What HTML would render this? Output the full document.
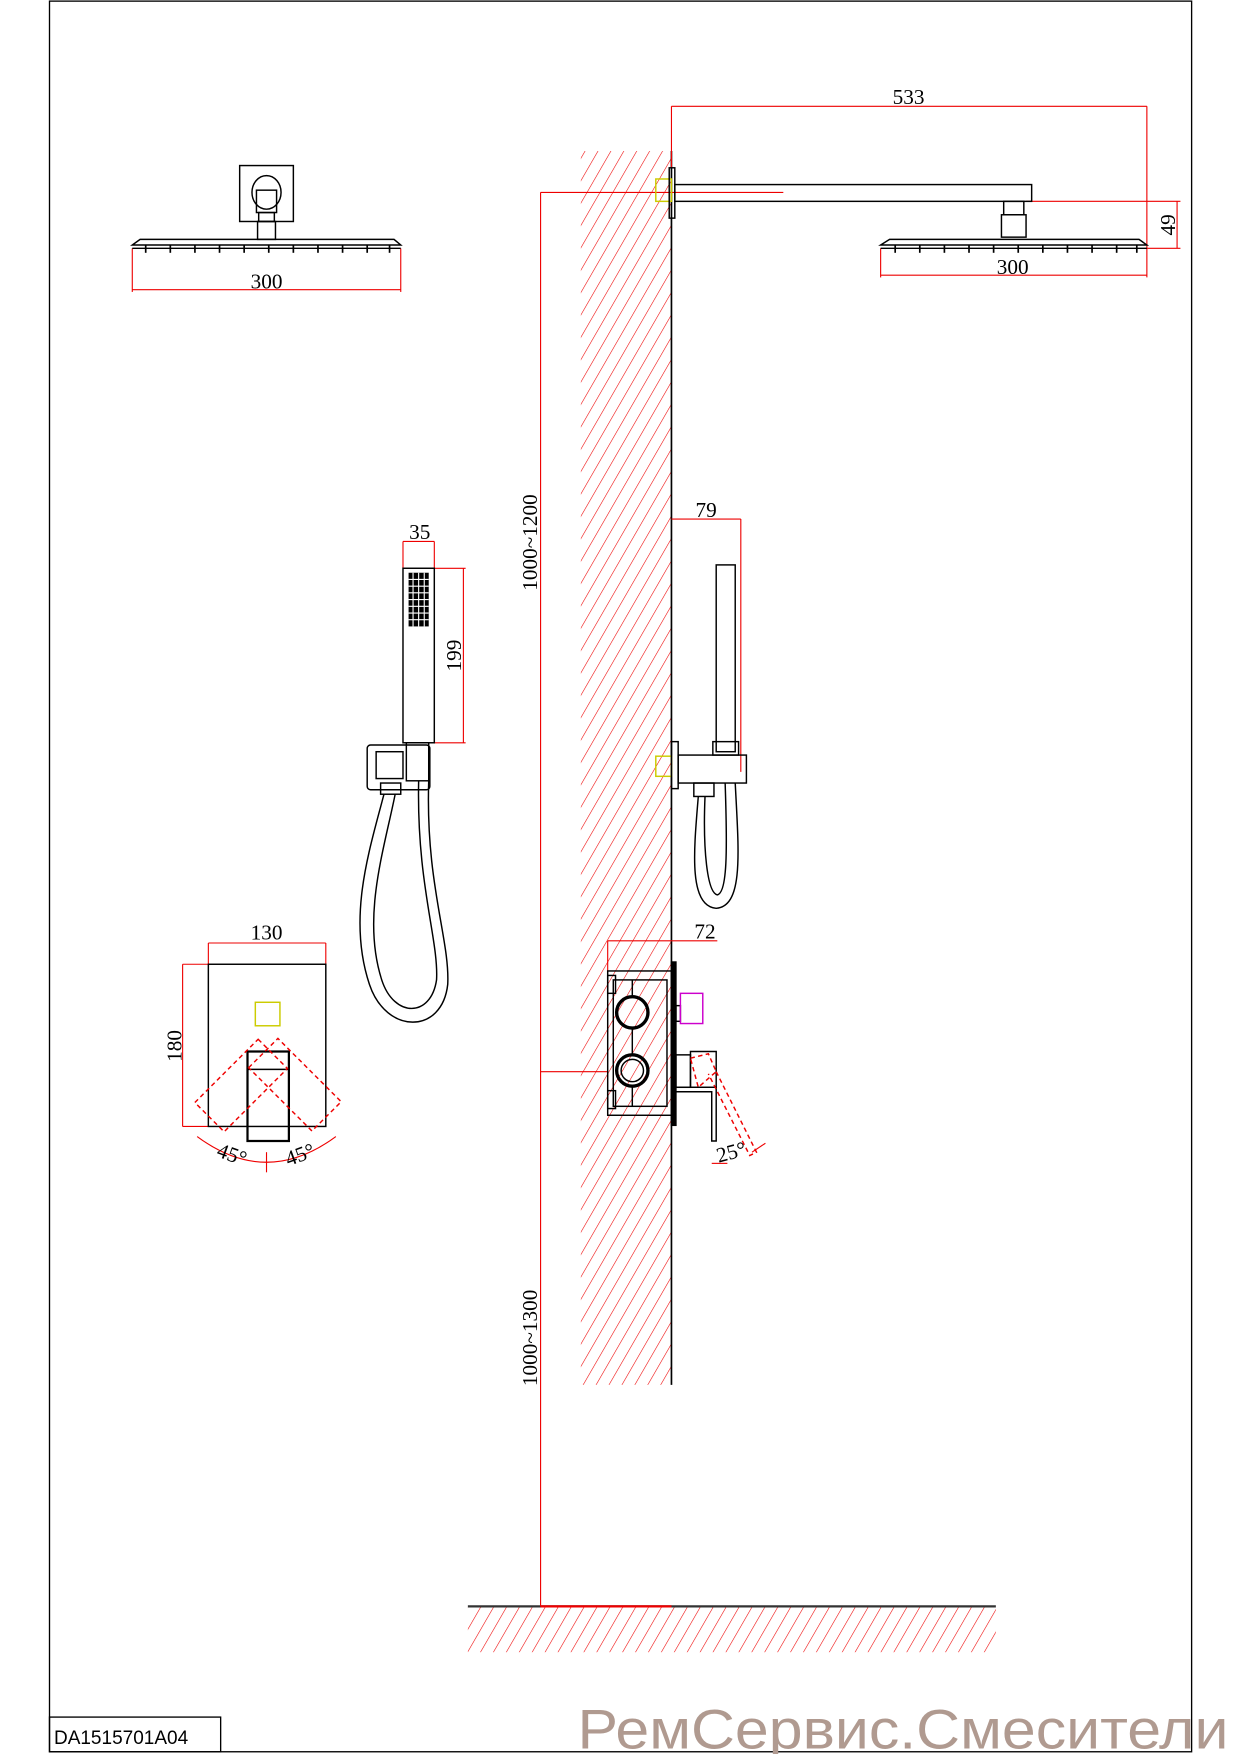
<!DOCTYPE html>
<html><head><meta charset="utf-8"><style>
html,body{margin:0;padding:0;background:#fff;}
svg{display:block;}
text{font-family:"Liberation Serif",serif;}
</style></head><body>
<svg width="1240" height="1754" viewBox="0 0 1108 1568" xmlns="http://www.w3.org/2000/svg">
<defs>
<pattern id="h" width="10" height="10" patternUnits="userSpaceOnUse" patternTransform="rotate(30)">
<line x1="0" y1="0" x2="0" y2="10" stroke="#e00" stroke-width="1"/>
</pattern>
</defs>
<rect x="0" y="0" width="1108" height="1568" fill="#fff"/>
<rect x="44" y="1" width="1021" height="1565" fill="none" stroke="#000" stroke-width="1.2"/>
<rect x="44" y="1535" width="153" height="31" fill="none" stroke="#000" stroke-width="1.2"/>
<text x="48" y="1559" font-size="17" style="font-family:'Liberation Sans',sans-serif">DA1515701A04</text>
<text x="516" y="1563" font-size="50" fill="#b09a90" style="font-family:'Liberation Sans',sans-serif" textLength="582" lengthAdjust="spacingAndGlyphs">РемСервис.Смесители</text>

<rect x="519" y="135" width="81" height="1103" fill="url(#h)"/>
<line x1="600" y1="135" x2="600" y2="1238" stroke="#000" stroke-width="1.5"/>
<rect x="418" y="1437" width="472" height="40" fill="url(#h)"/>
<line x1="418" y1="1436" x2="890" y2="1436" stroke="#333" stroke-width="2"/>
<line x1="483" y1="1436" x2="600" y2="1436" stroke="#e00" stroke-width="2"/>

<g stroke="#e00" stroke-width="1" fill="none">
<line x1="483" y1="172" x2="483" y2="1436"/>
<line x1="483" y1="172" x2="700" y2="172"/>
<line x1="483" y1="958" x2="543" y2="958"/>
<line x1="600" y1="95" x2="1025" y2="95"/>
<line x1="600" y1="95" x2="600" y2="150"/>
<line x1="1025" y1="95" x2="1025" y2="248"/>
<line x1="917" y1="180" x2="1055" y2="180"/>
<line x1="1025" y1="222" x2="1055" y2="222"/>
<line x1="1052" y1="180" x2="1052" y2="222"/>
<line x1="787" y1="222" x2="787" y2="248"/>
<line x1="787" y1="246" x2="1025" y2="246"/>
<line x1="118" y1="222" x2="118" y2="261"/>
<line x1="358" y1="222" x2="358" y2="261"/>
<line x1="118" y1="259" x2="358" y2="259"/>
<line x1="360" y1="484" x2="388" y2="484"/>
<line x1="360" y1="484" x2="360" y2="508"/>
<line x1="388" y1="484" x2="388" y2="508"/>
<line x1="388" y1="508" x2="416" y2="508"/>
<line x1="388" y1="664" x2="416" y2="664"/>
<line x1="414" y1="508" x2="414" y2="664"/>
<line x1="600" y1="464" x2="662" y2="464"/>
<line x1="662" y1="464" x2="662" y2="690"/>
<line x1="543" y1="841" x2="641" y2="841"/>
<line x1="543" y1="841" x2="543" y2="868"/>
<line x1="186" y1="843" x2="291" y2="843"/>
<line x1="186" y1="843" x2="186" y2="862"/>
<line x1="291" y1="843" x2="291" y2="862"/>
<line x1="163" y1="862" x2="163" y2="1007"/>
<line x1="163" y1="862" x2="186" y2="862"/>
<line x1="163" y1="1007" x2="186" y2="1007"/>
<path d="M176 1016 Q238 1062 300 1016"/>
<line x1="238" y1="1030" x2="238" y2="1048"/>
<line x1="636" y1="1040" x2="650" y2="1040"/>
<line x1="672" y1="1030" x2="684" y2="1022"/>
</g>

<g font-size="19" fill="#000">
<text x="812" y="93" text-anchor="middle">533</text>
<text x="905" y="245" text-anchor="middle">300</text>
<text x="238" y="258" text-anchor="middle">300</text>
<text x="375" y="482" text-anchor="middle">35</text>
<text x="631" y="462" text-anchor="middle">79</text>
<text x="630" y="839" text-anchor="middle">72</text>
<text x="238" y="840" text-anchor="middle">130</text>
<text transform="translate(1050,201) rotate(-90)" text-anchor="middle">49</text>
<text transform="translate(412,586) rotate(-90)" text-anchor="middle">199</text>
<text transform="translate(162,935) rotate(-90)" text-anchor="middle">180</text>
<text transform="translate(480,485) rotate(-90)" text-anchor="middle">1000~1200</text>
<text transform="translate(480,1196) rotate(-90)" text-anchor="middle">1000~1300</text>
<text transform="translate(205,1038) rotate(20)" text-anchor="middle">45°</text>
<text transform="translate(270,1038) rotate(-20)" text-anchor="middle">45°</text>
<text transform="translate(655,1036) rotate(-15)" text-anchor="middle">25°</text>
</g>

<g stroke="#000" stroke-width="1.3" fill="none">
<rect x="214" y="148" width="48" height="50"/>
<ellipse cx="238" cy="172" rx="13" ry="15"/>
<rect x="229" y="170" width="18" height="20"/>
<rect x="231" y="190" width="14" height="8"/>
<rect x="230" y="198" width="16" height="16"/>
<path d="M125 214 L352 214 L358 219 L118 219 Z"/>
<line x1="118" y1="222" x2="358" y2="222"/>
<rect x="586" y="160" width="14" height="20" stroke="#cc0"/>
<rect x="598" y="150" width="5" height="45"/>
<rect x="603" y="165" width="319" height="15"/>
<rect x="897" y="180" width="18" height="12"/>
<rect x="895" y="192" width="22" height="20"/>
<path d="M795 214 L1018 214 L1025 219 L787 219 Z"/>
<line x1="787" y1="222" x2="1025" y2="222"/>
<rect x="360" y="508" width="28" height="156"/>
<rect x="328" y="666" width="56" height="40" rx="3"/>
<rect x="336" y="672" width="24" height="24"/>
<rect x="363" y="664" width="20" height="34"/>
<rect x="340" y="700" width="18" height="10"/>
<path d="M343 710 C330 760 310 820 330 880 C345 925 395 925 400 880 C402 840 380 790 383 698"/>
<path d="M353 710 C343 760 323 820 341 876 C352 910 385 910 390 876 C392 840 372 790 374 698"/>
<rect x="640" y="505" width="17" height="167"/>
<rect x="637" y="663" width="23" height="12"/>
<rect x="586" y="676" width="14" height="18" stroke="#cc0"/>
<rect x="600" y="663" width="6" height="42"/>
<rect x="606" y="675" width="61" height="25"/>
<rect x="620" y="700" width="18" height="12"/>
<path d="M624 712 C620 760 615 810 640 812 C665 810 660 760 657 700"/>
<path d="M630 712 C628 760 632 798 641 800 C650 798 650 760 648 700"/>
<rect x="186" y="862" width="105" height="145"/>
<rect x="228" y="896" width="22" height="21" stroke="#cc0"/>
<rect x="221" y="940" width="37" height="80" stroke-width="2"/>
<line x1="221" y1="956" x2="258" y2="956"/>
<rect x="543" y="868" width="57" height="129"/>
<rect x="548" y="876" width="48" height="113"/>
<rect x="600" y="860" width="4" height="146" fill="#000"/>
<circle cx="565" cy="905" r="14" stroke-width="3"/>
<circle cx="565" cy="957" r="14" stroke-width="3"/>
<circle cx="565" cy="957" r="10"/>
<line x1="565" y1="876" x2="565" y2="891"/>
<line x1="565" y1="919" x2="565" y2="943"/>
<line x1="565" y1="971" x2="565" y2="989"/>
<rect x="543" y="872" width="7" height="16"/>
<rect x="543" y="975" width="7" height="16"/>
<rect x="604" y="899" width="4" height="14"/>
<rect x="608" y="888" width="20" height="27" stroke="#c0c"/>
<rect x="604" y="943" width="13" height="29"/>
<path d="M617 940 L640 940 L640 972 L617 972 Z"/>
<path d="M604 972 L640 972 L640 1020 L636 1020 L636 976 L604 976"/>
</g>
<g stroke="#e00" stroke-width="1.3" fill="none" stroke-dasharray="4,3">
<rect x="221" y="940" width="37" height="80" transform="rotate(45 239 946)"/>
<rect x="221" y="940" width="37" height="80" transform="rotate(-45 239 946)"/>
<path d="M617 946 L633 942 L640 958 L624 972 Z"/>
<path d="M640 958 L676 1030 L670 1033 L633 960"/>
</g>
<rect x="365" y="512" width="18" height="48" fill="#000"/>
<g stroke="#fff" stroke-width="1">
<line x1="365" y1="518" x2="383" y2="518"/><line x1="365" y1="524" x2="383" y2="524"/><line x1="365" y1="530" x2="383" y2="530"/><line x1="365" y1="536" x2="383" y2="536"/><line x1="365" y1="542" x2="383" y2="542"/><line x1="365" y1="548" x2="383" y2="548"/><line x1="365" y1="554" x2="383" y2="554"/>
<line x1="369" y1="512" x2="369" y2="560"/><line x1="374" y1="512" x2="374" y2="560"/><line x1="379" y1="512" x2="379" y2="560"/>
</g>
<g stroke="#000" stroke-width="1.5">
<line x1="130" y1="219" x2="130" y2="226"/><line x1="152" y1="219" x2="152" y2="226"/><line x1="174" y1="219" x2="174" y2="226"/><line x1="196" y1="219" x2="196" y2="226"/><line x1="218" y1="219" x2="218" y2="226"/><line x1="240" y1="219" x2="240" y2="226"/><line x1="262" y1="219" x2="262" y2="226"/><line x1="284" y1="219" x2="284" y2="226"/><line x1="306" y1="219" x2="306" y2="226"/><line x1="328" y1="219" x2="328" y2="226"/><line x1="348" y1="219" x2="348" y2="226"/>
<line x1="800" y1="219" x2="800" y2="226"/><line x1="822" y1="219" x2="822" y2="226"/><line x1="844" y1="219" x2="844" y2="226"/><line x1="866" y1="219" x2="866" y2="226"/><line x1="888" y1="219" x2="888" y2="226"/><line x1="910" y1="219" x2="910" y2="226"/><line x1="932" y1="219" x2="932" y2="226"/><line x1="954" y1="219" x2="954" y2="226"/><line x1="976" y1="219" x2="976" y2="226"/><line x1="998" y1="219" x2="998" y2="226"/><line x1="1016" y1="219" x2="1016" y2="226"/>
</g>
</svg>
</body></html>
